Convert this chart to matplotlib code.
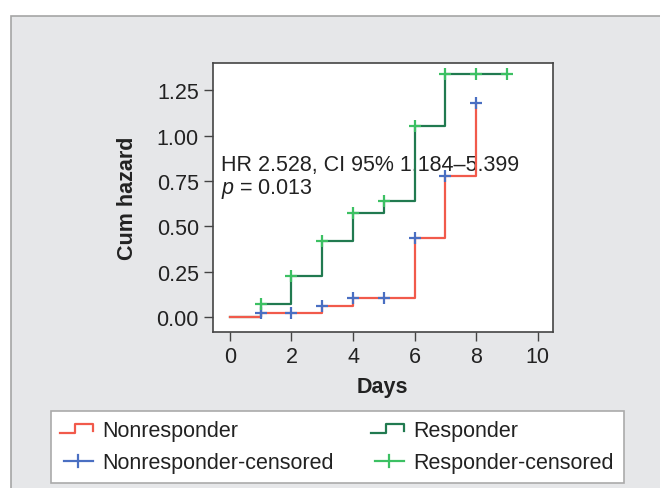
import matplotlib
matplotlib.use("Agg")
import matplotlib.pyplot as plt
from matplotlib.lines import Line2D
from matplotlib.patches import Rectangle
from matplotlib.legend_handler import HandlerBase

plt.rcParams['font.family'] = ['Liberation Sans', 'DejaVu Sans']
plt.rcParams['mathtext.fontset'] = 'custom'
plt.rcParams['mathtext.it'] = 'Liberation Sans:italic'
plt.rcParams['mathtext.rm'] = 'Liberation Sans'

# ---- data ----
days_non = [0, 1, 2, 3, 4, 5, 6, 7, 8]
haz_non = [0.0, 0.024, 0.024, 0.061, 0.105, 0.105, 0.437, 0.778, 1.180]
cens_days_non = [1, 2, 3, 4, 5, 6, 7, 8]
cens_haz_non = [0.024, 0.024, 0.061, 0.105, 0.105, 0.437, 0.778, 1.180]

days_resp = [0, 1, 2, 3, 4, 5, 6, 7, 8, 9]
haz_resp = [0.0, 0.073, 0.228, 0.419, 0.574, 0.641, 1.051, 1.338, 1.338, 1.338]
cens_days_resp = [1, 2, 3, 4, 5, 6, 7, 8, 9]
cens_haz_resp = [0.073, 0.228, 0.419, 0.574, 0.641, 1.051, 1.338, 1.338, 1.338]

xticks = [0, 2, 4, 6, 8, 10]
yticks = [0.00, 0.25, 0.50, 0.75, 1.00, 1.25]
ytick_labels = ["0.00", "0.25", "0.50", "0.75", "1.00", "1.25"]
labels = ["Nonresponder", "Responder", "Nonresponder-censored", "Responder-censored"]

RED = "#f15a4b"
DGREEN = "#217a50"
BLUE = "#4a6fc2"
LGREEN = "#3cc063"
TXT = "#222222"
FS = 15.5

W, H = 660, 489
fig = plt.figure(figsize=(W / 100, H / 100), dpi=100)
fig.patch.set_facecolor("white")

# gray panel
panel = Rectangle((11 / W, -0.1), 1.0, 1.1 - 17 / H, transform=fig.transFigure,
                  facecolor="#e6e7e9", edgecolor="#a5a5a5", linewidth=1.2, zorder=0)
fig.patches.append(panel)

ax = fig.add_axes([212.7 / W, 1 - 333.3 / H, (553 - 212.7) / W, (333.3 - 64) / H])
ax.set_facecolor("white")
ax.set_zorder(2)

ax.step(days_resp, haz_resp, where="post", color=DGREEN, lw=1.6, zorder=3)
ax.step(days_non, haz_non, where="post", color=RED, lw=1.6, zorder=4)
ax.plot(cens_days_non, cens_haz_non, ls="none", marker="+", ms=8, mew=1.6,
        color=BLUE, zorder=5)
ax.plot(cens_days_resp, cens_haz_resp, ls="none", marker="+", ms=8, mew=1.6,
        color=LGREEN, zorder=5)

ax.set_xlim(-0.56, 10.5)
ax.set_ylim(-0.083, 1.40)
ax.set_xticks(xticks)
ax.set_yticks(yticks)
ax.set_yticklabels(ytick_labels)
ax.tick_params(direction="out", length=6.5, width=1.0, color="#444444",
               labelsize=FS, labelcolor=TXT, pad=3.5)
for s in ax.spines.values():
    s.set_color("#444444")
    s.set_linewidth(1.2)

ax.set_xlabel("Days", fontsize=FS, fontweight="bold", color=TXT, labelpad=6)
ax.set_ylabel("Cum hazard", fontsize=FS, fontweight="bold", color=TXT, labelpad=13)

ax.text(-0.30, 0.809, "HR 2.528, CI 95% 1.184\u20135.399", fontsize=FS,
        color=TXT, va="baseline", ha="left", zorder=2)
ax.text(-0.30, 0.686, r"$\it{p}$ = 0.013", fontsize=FS,
        color=TXT, va="baseline", ha="left", zorder=2)


class StepHandler(HandlerBase):
    def create_artists(self, legend, orig_handle, xdescent, ydescent, width,
                       height, fontsize, trans):
        x0, y0 = -xdescent, -ydescent
        lo = y0 + 0.2 * height
        hi = y0 + 0.8 * height
        xs = [x0, x0 + 0.45 * width, x0 + 0.45 * width, x0 + width, x0 + width]
        ys = [lo, lo, hi, hi, y0 + 0.35 * height]
        return [Line2D(xs, ys, color=orig_handle.get_color(), lw=1.6,
                       transform=trans)]


class CensHandler(HandlerBase):
    def create_artists(self, legend, orig_handle, xdescent, ydescent, width,
                       height, fontsize, trans):
        x0, y0 = -xdescent, -ydescent
        xm = x0 + 0.5 * width
        ym = y0 + 0.5 * height
        l1 = Line2D([x0 + 0.1 * width, x0 + width], [ym, ym],
                    color=orig_handle.get_color(), lw=1.6, transform=trans)
        l2 = Line2D([xm + 0.05 * width, xm + 0.05 * width], [ym - 0.4 * height, ym + 0.4 * height],
                    color=orig_handle.get_color(), lw=1.6, transform=trans)
        return [l1, l2]


h_non = Line2D([], [], color=RED)
h_resp = Line2D([], [], color=DGREEN)
h_cn = Line2D([], [], color=BLUE)
h_cr = Line2D([], [], color=LGREEN)

leg = fig.legend([h_non, h_cn, h_resp, h_cr],
                 [labels[0], labels[2], labels[1], labels[3]],
                 ncol=2, loc="upper left",
                 bbox_to_anchor=(50.6 / W, 1 - 411.7 / H),
                 bbox_transform=fig.transFigure,
                 fontsize=FS, frameon=True, fancybox=False,
                 handlelength=1.5, handletextpad=0.45, columnspacing=1.75,
                 labelspacing=0.5, borderpad=0.45, borderaxespad=0,
                 handler_map={h_non: StepHandler(), h_resp: StepHandler(),
                              h_cn: CensHandler(), h_cr: CensHandler()})
leg.get_frame().set_edgecolor("#aaaaaa")
leg.get_frame().set_linewidth(1.2)
leg.get_frame().set_facecolor("white")
leg.get_frame().set_alpha(1)
for t in leg.get_texts():
    t.set_color(TXT)

fig.savefig("out.png", dpi=100)
